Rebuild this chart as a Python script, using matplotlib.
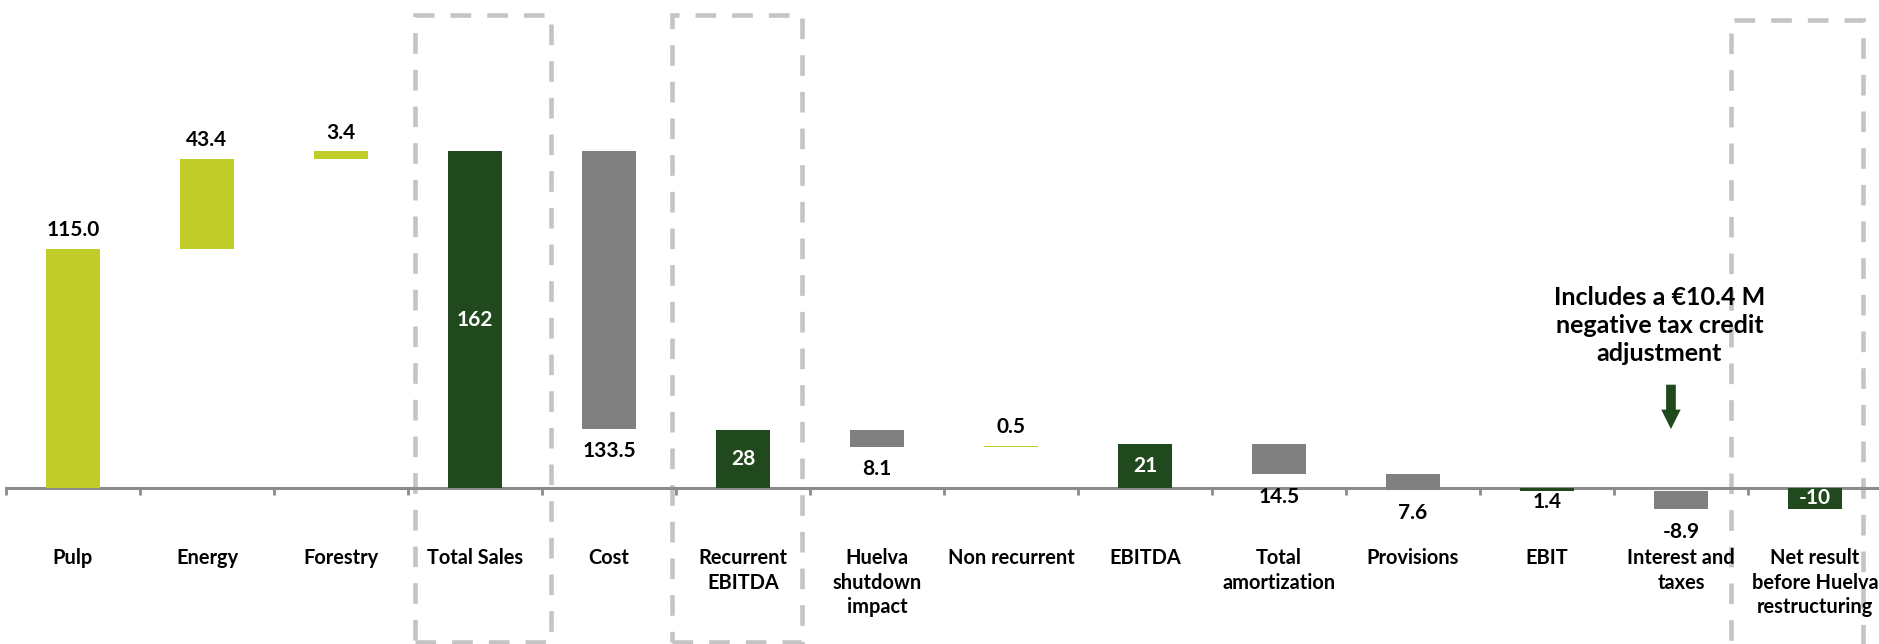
import matplotlib.pyplot as plt
from matplotlib.patches import Rectangle
from matplotlib.transforms import blended_transform_factory
import numpy as np

# waterfall data
categories = ["Pulp", "Energy", "Forestry", "Total Sales", "Cost", "Recurrent\nEBITDA",
              "Huelva\nshutdown\nimpact", "Non recurrent", "EBITDA", "Total\namortization",
              "Provisions", "EBIT", "Interest and\ntaxes", "Net result\nbefore Huelva\nrestructuring"]
values = [115.0, 43.4, 3.4, 162, -133.5, 28, -8.1, 0.5, 21, -14.5, -7.6, -1.4, -8.9, -10]
is_total = [False, False, False, True, False, True, False, False, True, False, False, True, False, True]
value_labels = ["115.0", "43.4", "3.4", "162", "133.5", "28", "8.1", "0.5", "21", "14.5",
                "7.6", "1.4", "-8.9", "-10"]
highlighted = ["Total Sales", "Recurrent\nEBITDA", "Net result\nbefore Huelva\nrestructuring"]
note = "Includes a €10.4 M\nnegative tax credit\nadjustment"

LIME = "#C0CC2A"
DARK = "#204A1E"
GREY = "#808080"

plt.rcParams['font.family'] = ['Lato', 'DejaVu Sans']

fig = plt.figure(figsize=(18.79, 6.44), dpi=100)
ax = fig.add_axes([6 / 1879, 0, 1876 / 1879, 1])

x = np.arange(len(categories))
bottoms, heights, colors = [], [], []
running = 0.0
for v, tot in zip(values, is_total):
    if tot:
        bottoms.append(0)
        heights.append(v)
        colors.append(DARK)
        running = v
    else:
        bottoms.append(running)
        heights.append(v)
        colors.append(LIME if v > 0 else GREY)
        running += v

ax.bar(x, heights, bottom=bottoms, width=0.40, color=colors, zorder=3)

for i, (b, h, tot) in enumerate(zip(bottoms, heights, is_total)):
    txt = value_labels[i]
    if tot and abs(h) >= 3:
        ax.text(x[i], b + h / 2, txt, ha='center', va='center', color='white',
                fontsize=15, fontweight='bold', zorder=5)
    elif h > 0:
        ax.annotate(txt, (x[i], b + h), xytext=(0, 6), textcoords='offset points',
                    ha='center', va='bottom', fontsize=15, fontweight='bold')
    else:
        # tiny totals sit right under the axis, the rest a bit further down
        off = -1 if tot else -9
        ax.annotate(txt, (x[i], min(b, b + h)), xytext=(0, off), textcoords='offset points',
                    ha='center', va='top', fontsize=15, fontweight='bold', zorder=5)

ax.set_xlim(-0.5, len(categories) - 0.5)
ax.set_ylim(-75, 234.6)

for s in ['top', 'right', 'left']:
    ax.spines[s].set_visible(False)
ax.spines['bottom'].set_position(('data', 0))
ax.spines['bottom'].set_color('#8C8C8C')
ax.spines['bottom'].set_linewidth(2.2)
ax.set_yticks([])

ax.set_xticks(x)
ax.set_xticklabels(categories, fontsize=14.4, fontweight='bold', linespacing=1.3)
ax.tick_params(axis='x', which='major', length=0, pad=43)
ax.set_xticks(np.arange(-0.5, len(categories)), minor=True)
ax.tick_params(axis='x', which='minor', length=5, width=2, color='#8C8C8C', direction='out')

# dashed highlight boxes
trans = blended_transform_factory(ax.transData, ax.transAxes)
box_span = {"Total Sales": (-0.45, 0.57, 0.976, 0.003),
            "Recurrent\nEBITDA": (-0.53, 0.44, 0.977, 0.003),
            "Net result\nbefore Huelva\nrestructuring": (-0.63, 0.36, 0.969, -0.02)}
for name in highlighted:
    i = categories.index(name)
    l, r, top, bot = box_span[name]
    ax.add_patch(Rectangle((i + l, bot), r - l, top - bot, transform=trans, fill=False,
                           edgecolor='#C4C4C4', linewidth=3.3, linestyle=(0, (4.5, 3.5)),
                           clip_on=False, zorder=1))

# note with arrow on interest and taxes
k = categories.index("Interest and\ntaxes")
ax.text(k - 0.16, 78, note, ha='center', va='center', fontsize=18, fontweight='bold',
        linespacing=1.25)
ax.annotate("", xy=(k - 0.075, 27), xytext=(k - 0.075, 51),
            arrowprops=dict(arrowstyle='simple,head_width=1.4,head_length=1.4,tail_width=0.7',
                            color=DARK, lw=0))

fig.savefig("out.png", dpi=100)
